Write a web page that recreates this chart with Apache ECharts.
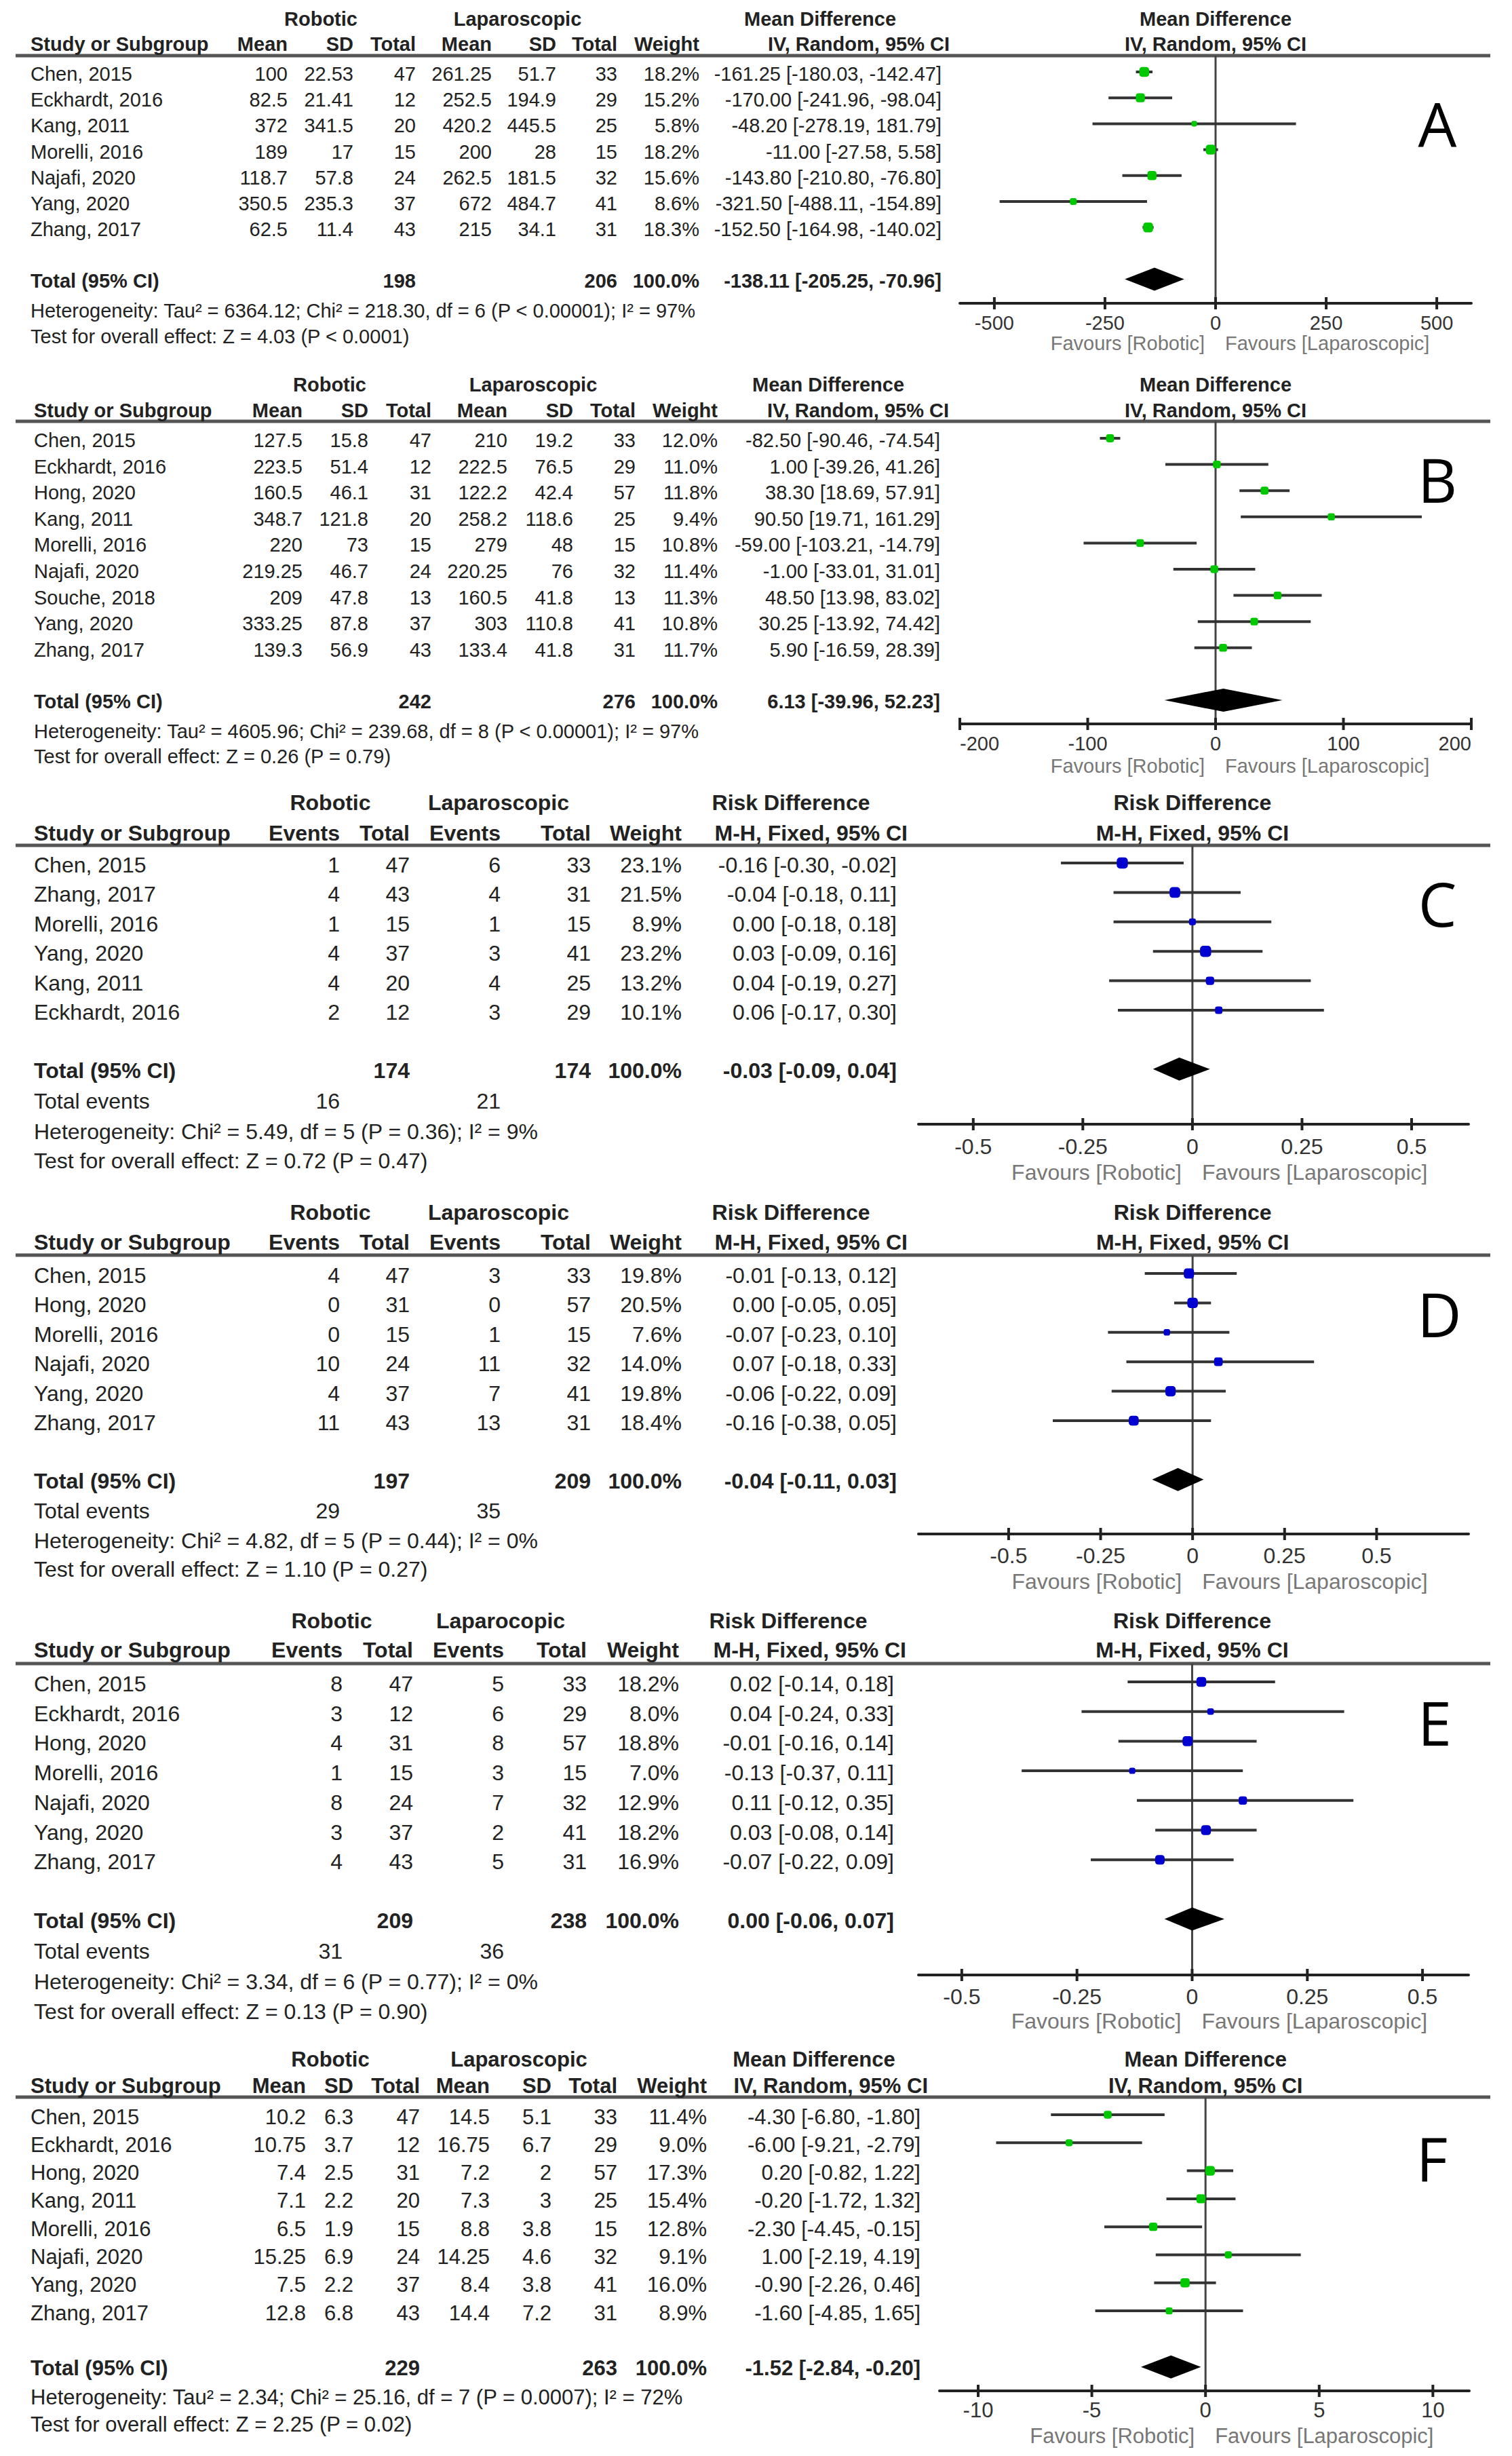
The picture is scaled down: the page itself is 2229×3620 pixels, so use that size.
<!DOCTYPE html>
<html><head><meta charset="utf-8">
<script src="https://cdn.jsdelivr.net/npm/echarts@6/dist/echarts.min.js"></script>
<style>html,body{margin:0;padding:0;background:#fff}#c{width:2229px;height:3620px}</style>
</head><body><div id="c"></div>
<script>
// ---------- shared text ----------
const mdHeader1 = ['Robotic', 'Laparoscopic', 'Mean Difference'];
const mdHeader2 = ['Study or Subgroup', 'Mean', 'SD', 'Total', 'Mean', 'SD', 'Total', 'Weight', 'IV, Random, 95% CI'];
const rdHeader1 = ['Robotic', 'Laparoscopic', 'Risk Difference'];
const eHeader1 = ['Robotic', 'Laparocopic', 'Risk Difference'];
const rdHeader2 = ['Study or Subgroup', 'Events', 'Total', 'Events', 'Total', 'Weight', 'M-H, Fixed, 95% CI'];
const favLeft = 'Favours [Robotic]';
const favRight = 'Favours [Laparoscopic]';
const totalWeightPct = 100.0;

// ---------- Panel A ----------
const aStudies = ['Chen, 2015', 'Eckhardt, 2016', 'Kang, 2011', 'Morelli, 2016', 'Najafi, 2020', 'Yang, 2020', 'Zhang, 2017'];
const aRobMean = [100, 82.5, 372, 189, 118.7, 350.5, 62.5];
const aRobSD = [22.53, 21.41, 341.5, 17, 57.8, 235.3, 11.4];
const aRobN = [47, 12, 20, 15, 24, 37, 43];
const aLapMean = [261.25, 252.5, 420.2, 200, 262.5, 672, 215];
const aLapSD = [51.7, 194.9, 445.5, 28, 181.5, 484.7, 34.1];
const aLapN = [33, 29, 25, 15, 32, 41, 31];
const aWeight = [18.2, 15.2, 5.8, 18.2, 15.6, 8.6, 18.3];
const aEst = [-161.25, -170.00, -48.20, -11.00, -143.80, -321.50, -152.50];
const aLo = [-180.03, -241.96, -278.19, -27.58, -210.80, -488.11, -164.98];
const aHi = [-142.47, -98.04, 181.79, 5.58, -76.80, -154.89, -140.02];
const aTotal = [-138.11, -205.25, -70.96];
const aTicks = [-500, -250, 0, 250, 500];
const aHet = 'Heterogeneity: Tau\u00b2 = 6364.12; Chi\u00b2 = 218.30, df = 6 (P < 0.00001); I\u00b2 = 97%';
const aTest = 'Test for overall effect: Z = 4.03 (P < 0.0001)';

// ---------- Panel B ----------
const bStudies = ['Chen, 2015', 'Eckhardt, 2016', 'Hong, 2020', 'Kang, 2011', 'Morelli, 2016', 'Najafi, 2020', 'Souche, 2018', 'Yang, 2020', 'Zhang, 2017'];
const bRobMean = [127.5, 223.5, 160.5, 348.7, 220, 219.25, 209, 333.25, 139.3];
const bRobSD = [15.8, 51.4, 46.1, 121.8, 73, 46.7, 47.8, 87.8, 56.9];
const bRobN = [47, 12, 31, 20, 15, 24, 13, 37, 43];
const bLapMean = [210, 222.5, 122.2, 258.2, 279, 220.25, 160.5, 303, 133.4];
const bLapSD = [19.2, 76.5, 42.4, 118.6, 48, 76, 41.8, 110.8, 41.8];
const bLapN = [33, 29, 57, 25, 15, 32, 13, 41, 31];
const bWeight = [12.0, 11.0, 11.8, 9.4, 10.8, 11.4, 11.3, 10.8, 11.7];
const bEst = [-82.50, 1.00, 38.30, 90.50, -59.00, -1.00, 48.50, 30.25, 5.90];
const bLo = [-90.46, -39.26, 18.69, 19.71, -103.21, -33.01, 13.98, -13.92, -16.59];
const bHi = [-74.54, 41.26, 57.91, 161.29, -14.79, 31.01, 83.02, 74.42, 28.39];
const bTotal = [6.13, -39.96, 52.23];
const bTicks = [-200, -100, 0, 100, 200];
const bHet = 'Heterogeneity: Tau\u00b2 = 4605.96; Chi\u00b2 = 239.68, df = 8 (P < 0.00001); I\u00b2 = 97%';
const bTest = 'Test for overall effect: Z = 0.26 (P = 0.79)';

// ---------- Panel C ----------
const cStudies = ['Chen, 2015', 'Zhang, 2017', 'Morelli, 2016', 'Yang, 2020', 'Kang, 2011', 'Eckhardt, 2016'];
const cRobEv = [1, 4, 1, 4, 4, 2];
const cRobN = [47, 43, 15, 37, 20, 12];
const cLapEv = [6, 4, 1, 3, 4, 3];
const cLapN = [33, 31, 15, 41, 25, 29];
const cWeight = [23.1, 21.5, 8.9, 23.2, 13.2, 10.1];
const cEst = [-0.16, -0.04, 0.00, 0.03, 0.04, 0.06];
const cLo = [-0.30, -0.18, -0.18, -0.09, -0.19, -0.17];
const cHi = [-0.02, 0.11, 0.18, 0.16, 0.27, 0.30];
const cTotal = [-0.03, -0.09, 0.04];
const rdTicks = [-0.5, -0.25, 0, 0.25, 0.5];
const cHet = 'Heterogeneity: Chi\u00b2 = 5.49, df = 5 (P = 0.36); I\u00b2 = 9%';
const cTest = 'Test for overall effect: Z = 0.72 (P = 0.47)';

// ---------- Panel D ----------
const dStudies = ['Chen, 2015', 'Hong, 2020', 'Morelli, 2016', 'Najafi, 2020', 'Yang, 2020', 'Zhang, 2017'];
const dRobEv = [4, 0, 0, 10, 4, 11];
const dRobN = [47, 31, 15, 24, 37, 43];
const dLapEv = [3, 0, 1, 11, 7, 13];
const dLapN = [33, 57, 15, 32, 41, 31];
const dWeight = [19.8, 20.5, 7.6, 14.0, 19.8, 18.4];
const dEst = [-0.01, 0.00, -0.07, 0.07, -0.06, -0.16];
const dLo = [-0.13, -0.05, -0.23, -0.18, -0.22, -0.38];
const dHi = [0.12, 0.05, 0.10, 0.33, 0.09, 0.05];
const dTotal = [-0.04, -0.11, 0.03];
const dHet = 'Heterogeneity: Chi\u00b2 = 4.82, df = 5 (P = 0.44); I\u00b2 = 0%';
const dTest = 'Test for overall effect: Z = 1.10 (P = 0.27)';

// ---------- Panel E ----------
const eStudies = ['Chen, 2015', 'Eckhardt, 2016', 'Hong, 2020', 'Morelli, 2016', 'Najafi, 2020', 'Yang, 2020', 'Zhang, 2017'];
const eRobEv = [8, 3, 4, 1, 8, 3, 4];
const eRobN = [47, 12, 31, 15, 24, 37, 43];
const eLapEv = [5, 6, 8, 3, 7, 2, 5];
const eLapN = [33, 29, 57, 15, 32, 41, 31];
const eWeight = [18.2, 8.0, 18.8, 7.0, 12.9, 18.2, 16.9];
const eEst = [0.02, 0.04, -0.01, -0.13, 0.11, 0.03, -0.07];
const eLo = [-0.14, -0.24, -0.16, -0.37, -0.12, -0.08, -0.22];
const eHi = [0.18, 0.33, 0.14, 0.11, 0.35, 0.14, 0.09];
const eTotal = [0.00, -0.06, 0.07];
const eHet = 'Heterogeneity: Chi\u00b2 = 3.34, df = 6 (P = 0.77); I\u00b2 = 0%';
const eTest = 'Test for overall effect: Z = 0.13 (P = 0.90)';

// ---------- Panel F ----------
const fStudies = ['Chen, 2015', 'Eckhardt, 2016', 'Hong, 2020', 'Kang, 2011', 'Morelli, 2016', 'Najafi, 2020', 'Yang, 2020', 'Zhang, 2017'];
const fRobMean = [10.2, 10.75, 7.4, 7.1, 6.5, 15.25, 7.5, 12.8];
const fRobSD = [6.3, 3.7, 2.5, 2.2, 1.9, 6.9, 2.2, 6.8];
const fRobN = [47, 12, 31, 20, 15, 24, 37, 43];
const fLapMean = [14.5, 16.75, 7.2, 7.3, 8.8, 14.25, 8.4, 14.4];
const fLapSD = [5.1, 6.7, 2, 3, 3.8, 4.6, 3.8, 7.2];
const fLapN = [33, 29, 57, 25, 15, 32, 41, 31];
const fWeight = [11.4, 9.0, 17.3, 15.4, 12.8, 9.1, 16.0, 8.9];
const fEst = [-4.30, -6.00, 0.20, -0.20, -2.30, 1.00, -0.90, -1.60];
const fLo = [-6.80, -9.21, -0.82, -1.72, -4.45, -2.19, -2.26, -4.85];
const fHi = [-1.80, -2.79, 1.22, 1.32, -0.15, 4.19, 0.46, 1.65];
const fTotal = [-1.52, -2.84, -0.20];
const fTicks = [-10, -5, 0, 5, 10];
const fHet = 'Heterogeneity: Tau\u00b2 = 2.34; Chi\u00b2 = 25.16, df = 7 (P = 0.0007); I\u00b2 = 72%';
const fTest = 'Test for overall effect: Z = 2.25 (P = 0.02)';

// ---------- panel assembly (layout kept separate from values) ----------
const GREEN = '#00c800', BLUE = '#0000d0';
const panels = [
  { id: 'A', kind: 'md', color: GREEN, h1: mdHeader1, h2: mdHeader2, studies: aStudies,
    cols: [aRobMean, aRobSD, aRobN, aLapMean, aLapSD, aLapN], nIdx: [2, 5], weight: aWeight,
    est: aEst, lo: aLo, hi: aHi, total: aTotal, ticks: aTicks, range: [-578, 578], het: aHet, test: aTest,
    L: { font: 29, h1y: 28, h2y: 65, line: 82, first: 106, sp: 38.2, axis: 447, lm: 14, fav: 506, hety: 458, testy: 496,
         gx: [1415, 2169], letter: [2119, 181], sx: 45, cx: [424, 521, 613, 725, 820, 910, 1031, 1388], h2last: 1400, h1x: [473, 763, 1209] } },
  { id: 'B', kind: 'md', color: GREEN, h1: mdHeader1, h2: mdHeader2, studies: bStudies,
    cols: [bRobMean, bRobSD, bRobN, bLapMean, bLapSD, bLapN], nIdx: [2, 5], weight: bWeight,
    est: bEst, lo: bLo, hi: bHi, total: bTotal, ticks: bTicks, range: [-200, 200], het: bHet, test: bTest,
    L: { font: 29, h1y: 567, h2y: 605, line: 621, first: 646, sp: 38.6, axis: 1067, lm: 14, fav: 1129, hety: 1078, testy: 1115,
         gx: [1415, 2169], letter: [2119, 706], sx: 50, cx: [446, 543, 636, 748, 845, 937, 1058, 1386], h2last: 1399, h1x: [486, 786, 1221] } },
  { id: 'C', kind: 'rd', color: BLUE, h1: rdHeader1, h2: rdHeader2, studies: cStudies,
    cols: [cRobEv, cRobN, cLapEv, cLapN], nIdx: [1, 3], evIdx: [0, 2], weight: cWeight,
    est: cEst, lo: cLo, hi: cHi, total: cTotal, ticks: rdTicks, range: [-0.625, 0.63], het: cHet, test: cTest,
    L: { font: 32, h1y: 1183, h2y: 1228, line: 1246, first: 1272, sp: 43.4, axis: 1657, lm: 17, fav: 1728, evy: 1623, hety: 1668, testy: 1711,
         gx: [1354, 2165], letter: [2119, 1331], sx: 50, cx: [501, 604, 738, 871, 1005, 1322], h2last: 1338, h1x: [487, 735, 1166] } },
  { id: 'D', kind: 'rd', color: BLUE, h1: rdHeader1, h2: rdHeader2, studies: dStudies,
    cols: [dRobEv, dRobN, dLapEv, dLapN], nIdx: [1, 3], evIdx: [0, 2], weight: dWeight,
    est: dEst, lo: dLo, hi: dHi, total: dTotal, ticks: rdTicks, range: [-0.745, 0.75], het: dHet, test: dTest,
    L: { font: 32, h1y: 1787, h2y: 1831, line: 1850, first: 1877, sp: 43.4, axis: 2261, lm: 16, fav: 2331, evy: 2227, hety: 2271, testy: 2313,
         gx: [1354, 2165], letter: [2122, 1936], sx: 50, cx: [501, 604, 738, 871, 1005, 1322], h2last: 1338, h1x: [487, 735, 1166] } },
  { id: 'E', kind: 'rd', color: BLUE, h1: eHeader1, h2: rdHeader2, studies: eStudies,
    cols: [eRobEv, eRobN, eLapEv, eLapN], nIdx: [1, 3], evIdx: [0, 2], weight: eWeight,
    est: eEst, lo: eLo, hi: eHi, total: eTotal, ticks: rdTicks, range: [-0.594, 0.6], het: eHet, test: eTest,
    L: { font: 32, h1y: 2389, h2y: 2432, line: 2452, first: 2479, sp: 43.7, axis: 2911, lm: 16, fav: 2979, evy: 2876, hety: 2921, testy: 2965,
         gx: [1354, 2165], letter: [2115, 2538], sx: 50, cx: [505, 609, 743, 865, 1001, 1318], h2last: 1336, h1x: [489, 738, 1162] } },
  { id: 'F', kind: 'md', color: GREEN, h1: mdHeader1, h2: mdHeader2, studies: fStudies,
    cols: [fRobMean, fRobSD, fRobN, fLapMean, fLapSD, fLapN], nIdx: [2, 5], weight: fWeight,
    est: fEst, lo: fLo, hi: fHi, total: fTotal, ticks: fTicks, range: [-11.7, 11.6], het: fHet, test: fTest,
    L: { font: 31, h1y: 3035, h2y: 3074, line: 3091, first: 3117, sp: 41.3, axis: 3524, lm: 13, fav: 3590, hety: 3533, testy: 3573,
         gx: [1385, 2166], letter: [2111, 3181], sx: 45, cx: [451, 521, 619, 722, 813, 910, 1042, 1357], h2last: 1368, h1x: [487, 765, 1200] } }
];

const FONT = '"Liberation Sans", Arial, sans-serif';
const f2 = v => v.toFixed(2);
const ciText = (e, l, h) => f2(e) + ' [' + f2(l) + ', ' + f2(h) + ']';
const sum = a => a.reduce((s, v) => s + v, 0);

const chart = echarts.init(document.getElementById('c'), null, { renderer: 'svg', width: 2229, height: 3620 });

const grids = [], xAxes = [], yAxes = [], series = [];
panels.forEach((p, i) => {
  const L = p.L, n = p.studies.length;
  const yMin = (L.line - L.first) / L.sp, yMax = (L.axis - L.first) / L.sp;
  grids.push({ left: L.gx[0], top: L.line, width: L.gx[1] - L.gx[0], height: L.axis - L.line });
  const lab = { customValues: p.ticks, margin: L.lm, color: '#333', fontSize: L.font, fontFamily: FONT, formatter: v => String(v) };
  if (p.id === 'B') { lab.alignMinLabel = 'left'; lab.alignMaxLabel = 'right'; }
  xAxes.push({ gridIndex: i, type: 'value', min: p.range[0], max: p.range[1],
    axisLine: { show: true, onZero: false, lineStyle: { color: '#222', width: 4 } },
    axisTick: { show: false }, splitLine: { show: false }, axisLabel: lab });
  yAxes.push({ gridIndex: i, type: 'value', inverse: true, min: yMin, max: yMax, show: false });
  const base = { type: 'custom', xAxisIndex: i, yAxisIndex: i, clip: false, silent: true };
  // zero line
  series.push(Object.assign({}, base, { z: 1, data: [[0, yMin, yMax]], encode: { x: 0, y: [1, 2] },
    renderItem: (pa, api) => {
      const a = api.coord([api.value(0), api.value(1)]), b = api.coord([api.value(0), api.value(2)]);
      return { type: 'line', shape: { x1: a[0], y1: a[1], x2: b[0], y2: b[1] }, style: { stroke: '#444', lineWidth: 3 } };
    } }));
  // crossing axis ticks
  series.push(Object.assign({}, base, { z: 2, data: p.ticks.map(v => [v, yMax]), encode: { x: 0, y: 1 },
    renderItem: (pa, api) => {
      const c = api.coord([api.value(0), api.value(1)]);
      return { type: 'line', shape: { x1: c[0], y1: c[1] - 9, x2: c[0], y2: c[1] + 9 }, style: { stroke: '#222', lineWidth: 4 } };
    } }));
  // studies: CI line + weighted square
  series.push(Object.assign({}, base, { z: 3,
    data: p.est.map((e, k) => [e, p.lo[k], p.hi[k], p.weight[k], k]), encode: { x: [0, 1, 2], y: 4 },
    renderItem: (pa, api) => {
      const r = api.value(4);
      const pl = api.coord([api.value(1), r]), ph = api.coord([api.value(2), r]), pe = api.coord([api.value(0), r]);
      const s = 3.4 * Math.sqrt(api.value(3));
      return { type: 'group', children: [
        { type: 'line', shape: { x1: pl[0], y1: pl[1], x2: ph[0], y2: ph[1] }, style: { stroke: '#333', lineWidth: 4 } },
        { type: 'rect', shape: { x: pe[0] - s / 2, y: pe[1] - s / 2, width: s, height: s, r: s * 0.3 }, style: { fill: p.color } }
      ] };
    } }));
  // pooled diamond
  series.push(Object.assign({}, base, { z: 4,
    data: [[p.total[0], p.total[1], p.total[2], n + 1]], encode: { x: [0, 1, 2], y: 3 },
    renderItem: (pa, api) => {
      const r = api.value(3);
      const c = api.coord([api.value(0), r]), l = api.coord([api.value(1), r]), h = api.coord([api.value(2), r]);
      return { type: 'polygon', shape: { points: [[l[0], c[1]], [c[0], c[1] - 17], [h[0], c[1]], [c[0], c[1] + 17]] }, style: { fill: '#000' } };
    } }));
});

chart.setOption({ animation: false, backgroundColor: '#fff', grid: grids, xAxis: xAxes, yAxis: yAxes, series: series });

// ---------- table text ----------
const els = [];
function txt(t, x, y, align, size, opts) {
  opts = opts || {};
  els.push({ type: 'text', x: x, y: y, silent: true, style: {
    text: String(t), fill: opts.fill || '#222', fontSize: size, fontFamily: opts.family || FONT,
    fontWeight: opts.bold ? 'bold' : 'normal', textAlign: align, textVerticalAlign: 'middle' } });
}
panels.forEach((p, i) => {
  const L = p.L, n = p.studies.length, fs = L.font;
  const rowY = r => chart.convertToPixel({ gridIndex: i }, [0, r])[1];
  const zeroX = chart.convertToPixel({ gridIndex: i }, [0, 0])[0];
  els.push({ type: 'rect', silent: true, shape: { x: 23, y: L.line - 2.5, width: 2174, height: 5 }, style: { fill: '#555' } });
  p.h1.forEach((t, k) => txt(t, L.h1x[k], L.h1y, 'center', fs, { bold: true }));
  txt(p.h1[2], zeroX, L.h1y, 'center', fs, { bold: true });
  txt(p.h2[0], L.sx, L.h2y, 'left', fs, { bold: true });
  for (let k = 1; k < p.h2.length; k++) {
    const x = k === p.h2.length - 1 ? L.h2last : L.cx[k - 1];
    txt(p.h2[k], x, L.h2y, 'right', fs, { bold: true });
  }
  txt(p.h2[p.h2.length - 1], zeroX, L.h2y, 'center', fs, { bold: true });
  p.studies.forEach((s, k) => {
    const y = rowY(k) + 3;
    txt(s, L.sx, y, 'left', fs);
    p.cols.forEach((arr, c) => txt(String(arr[k]), L.cx[c], y, 'right', fs));
    const nc = p.cols.length;
    txt(p.weight[k].toFixed(1) + '%', L.cx[nc], y, 'right', fs);
    txt(ciText(p.est[k], p.lo[k], p.hi[k]), L.cx[nc + 1], y, 'right', fs);
  });
  const ty = rowY(n + 1) + 2, nc = p.cols.length;
  txt('Total (95% CI)', L.sx, ty, 'left', fs, { bold: true });
  txt(sum(p.cols[p.nIdx[0]]), L.cx[p.nIdx[0]], ty, 'right', fs, { bold: true });
  txt(sum(p.cols[p.nIdx[1]]), L.cx[p.nIdx[1]], ty, 'right', fs, { bold: true });
  txt(totalWeightPct.toFixed(1) + '%', L.cx[nc], ty, 'right', fs, { bold: true });
  txt(ciText(p.total[0], p.total[1], p.total[2]), L.cx[nc + 1], ty, 'right', fs, { bold: true });
  if (p.kind === 'rd') {
    txt('Total events', L.sx, L.evy, 'left', fs);
    txt(sum(p.cols[p.evIdx[0]]), L.cx[p.evIdx[0]], L.evy, 'right', fs);
    txt(sum(p.cols[p.evIdx[1]]), L.cx[p.evIdx[1]], L.evy, 'right', fs);
  }
  txt(p.het, L.sx, L.hety, 'left', fs);
  txt(p.test, L.sx, L.testy, 'left', fs);
  txt(favLeft, zeroX - 16, L.fav, 'right', fs, { fill: '#777' });
  txt(favRight, zeroX + 14, L.fav, 'left', fs, { fill: '#777' });
  txt(p.id, L.letter[0], L.letter[1], 'center', 90, { fill: '#000', family: '"Open Sans", "DejaVu Sans", sans-serif' });
});
chart.setOption({ graphic: { elements: els } });
</script></body></html>
